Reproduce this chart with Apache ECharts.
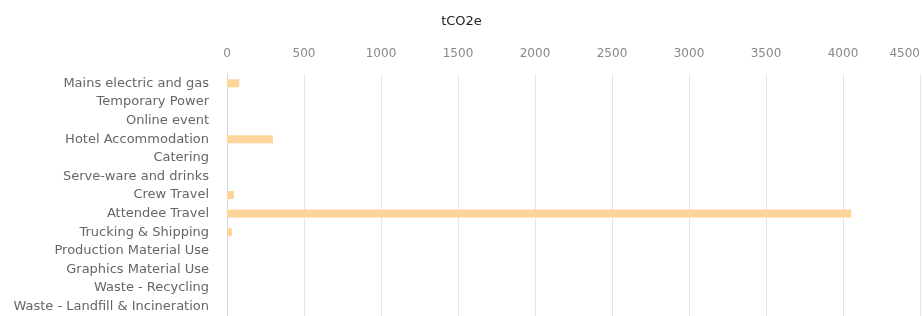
<!DOCTYPE html>
<html>
<head>
<meta charset="utf-8">
<script src="https://cdn.jsdelivr.net/npm/echarts@6/dist/echarts.min.js"></script>
<style>
  html, body { margin: 0; padding: 0; background: #fff; }
  #chart { width: 923px; height: 316px; }
</style>
</head>
<body>
<div id="chart"></div>
<script>
// categories, top to bottom
var categories = [
  'Mains electric and gas',
  'Temporary Power',
  'Online event',
  'Hotel Accommodation',
  'Catering',
  'Serve-ware and drinks',
  'Crew Travel',
  'Attendee Travel',
  'Trucking & Shipping',
  'Production Material Use',
  'Graphics Material Use',
  'Waste - Recycling',
  'Waste - Landfill & Incineration'
];
var values = [80, 0, 0, 298, 2, 0, 45, 4054, 32, 0, 0, 0, 0];
var tickMin = 0;
var tickMax = 4500;
var tickStep = 500;

var myChart = echarts.init(document.getElementById('chart'));
var option = {
  animation: false,
  textStyle: { fontFamily: 'DejaVu Sans' },
  title: {
    text: 'tCO2e',
    left: 'center',
    top: 10,
    textStyle: { fontSize: 13, fontWeight: 'normal', color: '#222', fontFamily: 'DejaVu Sans' }
  },
  grid: { left: 227, right: 1, top: 74, bottom: -4, containLabel: false },
  xAxis: {
    type: 'value',
    position: 'top',
    min: tickMin,
    max: tickMax,
    interval: tickStep,
    axisLine: { show: false },
    axisTick: { show: false },
    axisLabel: {
      color: '#888', fontSize: 12, margin: 14, alignMaxLabel: 'right',
      formatter: function (v) { return String(v); }
    },
    splitLine: { show: true, lineStyle: { color: '#e6e6e6', width: 1 } }
  },
  yAxis: {
    type: 'category',
    inverse: true,
    data: categories,
    axisLine: { show: true, lineStyle: { color: '#ccd6eb', width: 1 } },
    axisTick: { show: false },
    axisLabel: { color: '#666', fontSize: 13, margin: 18, interval: 0 },
    splitLine: { show: false }
  },
  series: [{
    type: 'bar',
    data: values,
    barWidth: 8,
    itemStyle: { color: '#fdd49a' }
  }]
};
myChart.setOption(option);
</script>
</body>
</html>
